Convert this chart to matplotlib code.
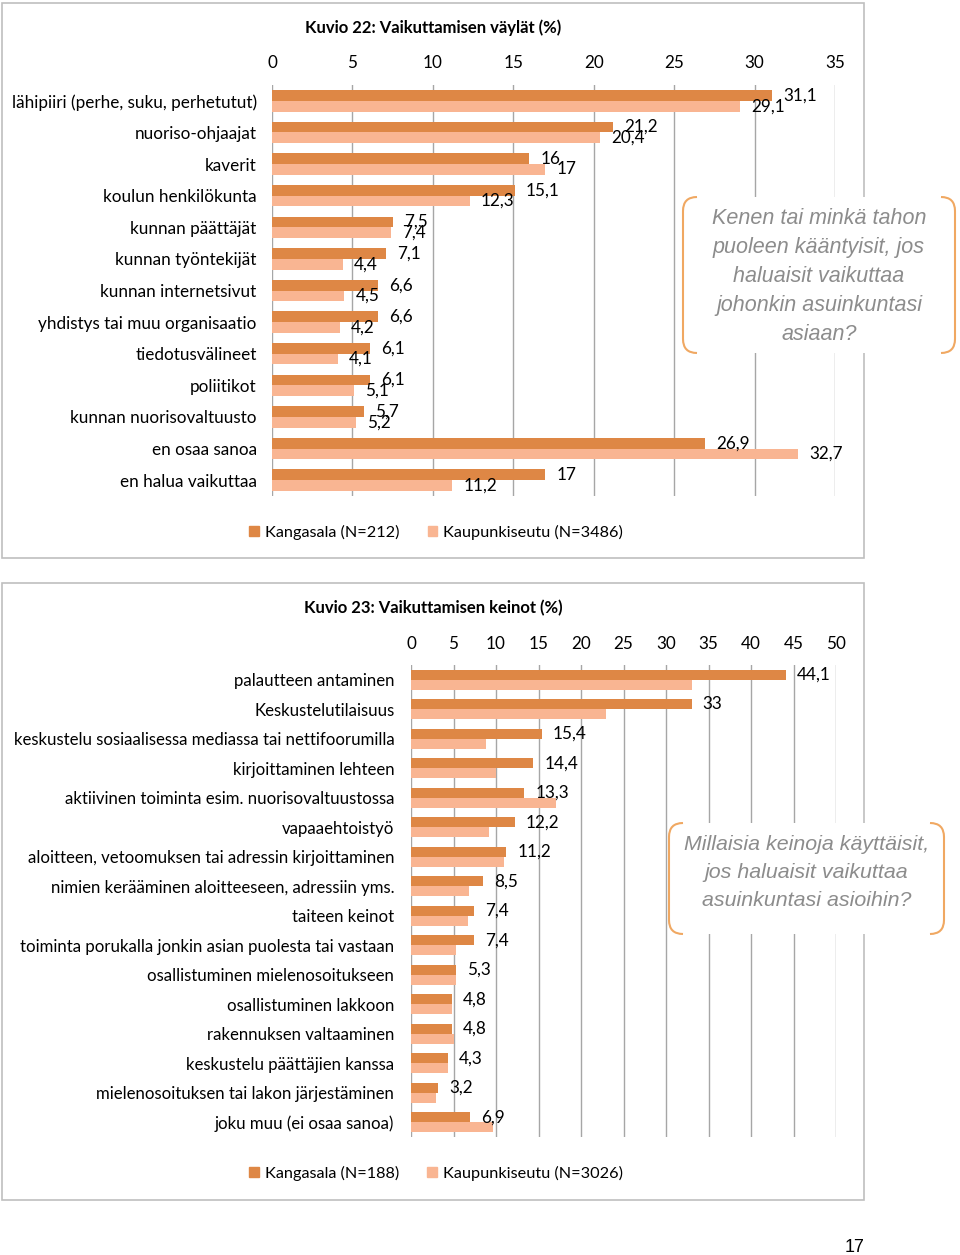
import matplotlib
matplotlib.use('Agg')
import matplotlib.pyplot as plt
from matplotlib.path import Path
from matplotlib.patches import PathPatch, Rectangle, Patch

# Kuvio 22
cat1 = ['lähipiiri (perhe, suku, perhetutut)', 'nuoriso-ohjaajat', 'kaverit',
        'koulun henkilökunta', 'kunnan päättäjät', 'kunnan työntekijät',
        'kunnan internetsivut', 'yhdistys tai muu organisaatio', 'tiedotusvälineet',
        'poliitikot', 'kunnan nuorisovaltuusto', 'en osaa sanoa', 'en halua vaikuttaa']
kang1 = [31.1, 21.2, 16, 15.1, 7.5, 7.1, 6.6, 6.6, 6.1, 6.1, 5.7, 26.9, 17]
kaup1 = [29.1, 20.4, 17, 12.3, 7.4, 4.4, 4.5, 4.2, 4.1, 5.1, 5.2, 32.7, 11.2]

# Kuvio 23
cat2 = ['palautteen antaminen', 'Keskustelutilaisuus',
        'keskustelu sosiaalisessa mediassa tai nettifoorumilla',
        'kirjoittaminen lehteen', 'aktiivinen toiminta esim. nuorisovaltuustossa',
        'vapaaehtoistyö', 'aloitteen, vetoomuksen tai adressin kirjoittaminen',
        'nimien kerääminen aloitteeseen, adressiin yms.', 'taiteen keinot',
        'toiminta porukalla jonkin asian puolesta tai vastaan',
        'osallistuminen mielenosoitukseen', 'osallistuminen lakkoon',
        'rakennuksen valtaaminen', 'keskustelu päättäjien kanssa',
        'mielenosoituksen tai lakon järjestäminen', 'joku muu (ei osaa sanoa)']
kang2 = [44.1, 33, 15.4, 14.4, 13.3, 12.2, 11.2, 8.5, 7.4, 7.4, 5.3, 4.8, 4.8, 4.3, 3.2, 6.9]
kaup2 = [33.1, 22.9, 8.8, 10.0, 17.0, 9.2, 10.9, 6.8, 6.7, 5.3, 5.3, 4.8, 5.1, 4.4, 2.9, 9.6]

DARK = '#DE8745'
LIGHT = '#F9B592'
GRID = '#A6A6A6'
FONT = 'Lato'

W, H = 960, 1255
fig = plt.figure(figsize=(W / 100, H / 100), dpi=100)


def rect(l, t, r, b):
    return [l / W, 1 - b / H, (r - l) / W, (b - t) / H]


def fy(y):
    return 1 - y / H


def fx(x):
    return x / W


def fmt(v):
    return ('%g' % v).replace('.', ',')


def bar_chart(box, cats, a, b, xmax, step, title, title_y, label_light, tickpad, ypad, fs):
    ax = fig.add_axes(box)
    pos = list(range(len(cats)))
    h = 0.34
    ax.barh([p - h / 2 for p in pos], a, height=h, color=DARK, zorder=3)
    ax.barh([p + h / 2 for p in pos], b, height=h, color=LIGHT, zorder=3)
    ax.set_xlim(0, xmax)
    ax.set_ylim(len(cats) - 0.5, -0.5)
    ax.set_xticks(range(0, xmax + 1, step))
    ax.xaxis.tick_top()
    ax.tick_params(axis='x', length=0, pad=tickpad, labelsize=12.3)
    ax.tick_params(axis='y', length=0, pad=ypad, labelsize=fs)
    ax.set_yticks(pos)
    ax.set_yticklabels(cats)
    for lab in ax.get_xticklabels() + ax.get_yticklabels():
        lab.set_fontfamily(FONT)
    ax.grid(axis='x', color=GRID, lw=1, zorder=0)
    for s in ax.spines.values():
        s.set_visible(False)
    for p, v in zip(pos, a):
        ax.annotate(fmt(v), (v, p - h / 2), xytext=(8, 0), textcoords='offset points',
                    va='center', ha='left', fontsize=12.3, fontfamily=FONT, zorder=4)
    if label_light:
        for p, v in zip(pos, b):
            ax.annotate(fmt(v), (v, p + h / 2), xytext=(8, 0), textcoords='offset points',
                        va='center', ha='left', fontsize=12.3, fontfamily=FONT, zorder=4)
    fig.text(fx(433), fy(title_y), title, ha='center', va='center',
             fontsize=12, fontweight='bold', fontfamily=FONT)
    return ax


def panel(t, b):
    fig.patches.append(Rectangle((fx(2), fy(b)), fx(862), (b - t) / H, transform=fig.transFigure,
                                 fill=False, edgecolor='#BFBFBF', lw=1.2, zorder=0))


def legend(y, n1, n2):
    handles = [Patch(color=DARK, label='Kangasala (N=%d)' % n1),
               Patch(color=LIGHT, label='Kaupunkiseutu (N=%d)' % n2)]
    fig.legend(handles=handles, loc='center', bbox_to_anchor=(fx(436), fy(y)), ncol=2,
               frameon=False, handlelength=0.6, handleheight=0.6, handletextpad=0.35,
               columnspacing=1.75, prop={'family': FONT, 'size': 11.7})


def callout(l, t, r, b, text, size, ty, ls):
    fig.patches.append(Rectangle((fx(l), fy(b)), (r - l) / W, (b - t) / H,
                                 transform=fig.transFigure, facecolor='white',
                                 edgecolor='none', zorder=5))
    rr = 14
    for side in (1, -1):
        x0 = l if side == 1 else r
        verts = [(x0 + side * rr, t), (x0, t), (x0, t + rr), (x0, b - rr), (x0, b),
                 (x0 + side * rr, b)]
        codes = [Path.MOVETO, Path.CURVE3, Path.CURVE3, Path.LINETO, Path.CURVE3, Path.CURVE3]
        verts = [(fx(x), fy(y)) for x, y in verts]
        fig.patches.append(PathPatch(Path(verts, codes), transform=fig.transFigure,
                                     fill=False, edgecolor='#F0A862', lw=1.5, zorder=6))
    fig.text(fx((l + r) / 2), fy(ty), text, ha='center', va='center',
             fontsize=size, style='italic', color='#8C8C8C', fontfamily='Liberation Sans',
             linespacing=ls, zorder=7)


panel(3, 558)
panel(583, 1200)

bar_chart(rect(272, 85, 835, 496), cat1, kang1, kaup1, 35, 5,
          'Kuvio 22: Vaikuttamisen väylät (%)', 28, True, 10, 11, 12.3)
bar_chart(rect(411, 665, 836, 1137), cat2, kang2, kaup2, 50, 5,
          'Kuvio 23: Vaikuttamisen keinot (%)', 608, False, 9.5, 12, 12.1)

legend(532, 212, 3486)
legend(1173, 188, 3026)

callout(683, 197, 955, 353,
        'Kenen tai minkä tahon\npuoleen kääntyisit, jos\nhaluaisit vaikuttaa\njohonkin asuinkuntasi\nasiaan?',
        15.5, 277, 1.5)
callout(669, 823, 944, 934,
        'Millaisia keinoja käyttäisit,\njos haluaisit vaikuttaa\nasuinkuntasi asioihin?', 15.4, 872, 1.6)

fig.text(fx(855), fy(1247), '17', ha='center', va='center', fontsize=13,
         fontfamily='Liberation Sans')

fig.savefig('out.png', dpi=100)
